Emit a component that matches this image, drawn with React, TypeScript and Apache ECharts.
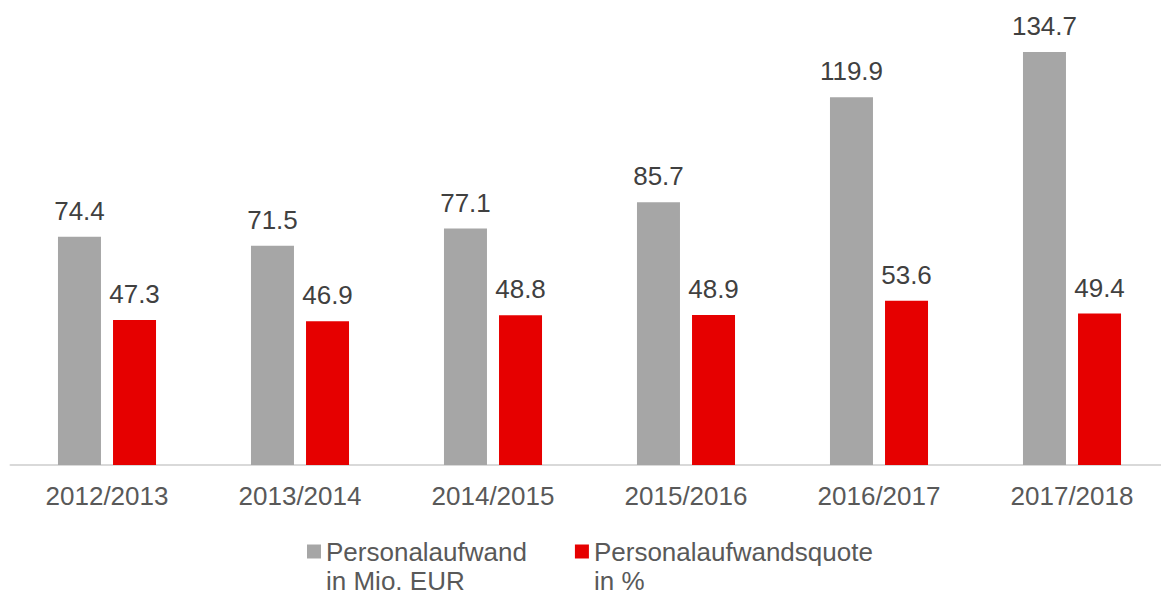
import React, { useEffect, useRef } from "react";
import * as echarts from "echarts";

const categories = ["2012/2013", "2013/2014", "2014/2015", "2015/2016", "2016/2017", "2017/2018"];
const personalaufwand = [74.4, 71.5, 77.1, 85.7, 119.9, 134.7];
const personalaufwandsquote = [47.3, 46.9, 48.8, 48.9, 53.6, 49.4];
const seriesNames = ["Personalaufwand\nin Mio. EUR", "Personalaufwandsquote\nin %"];

const FONT = "'Liberation Sans', Arial, Helvetica, sans-serif";

export default function App() {
  const ref = useRef<HTMLDivElement>(null);
  useEffect(() => {
    if (!ref.current) return;
    const chart = echarts.init(ref.current, null, { renderer: "svg" });
    const label = {
      show: true,
      position: "top",
      distance: 13,
      color: "#404040",
      fontSize: 26,
      fontFamily: FONT,
      formatter: (p: any) => Number(p.value).toFixed(1),
    };
    chart.setOption({
      animation: false,
      backgroundColor: "#ffffff",
      grid: {
        left: 10.5,
        top: 5,
        width: 1158,
        bottom: 127,
        containLabel: false,
        outerBoundsMode: "none",
      },
      legend: {
        left: 307,
        top: 508,
        padding: 0,
        itemWidth: 14,
        itemHeight: 14,
        itemGap: 48,
        icon: "rect",
        formatter: (name: string) => "\n" + name,
        textStyle: {
          color: "#595959",
          fontSize: 26,
          fontFamily: FONT,
          lineHeight: 29,
        },
        data: seriesNames,
      },
      xAxis: {
        type: "category",
        data: categories,
        axisTick: { show: false },
        axisLine: { show: true, lineStyle: { color: "#D9D9D9", width: 2 } },
        axisLabel: {
          color: "#595959",
          fontSize: 26,
          fontFamily: FONT,
          margin: 18,
          interval: 0,
        },
      },
      yAxis: {
        type: "value",
        min: 0,
        max: 150,
        show: false,
        splitLine: { show: false },
      },
      series: [
        {
          name: seriesNames[0],
          type: "bar",
          data: personalaufwand,
          barWidth: 43,
          barGap: "28%",
          itemStyle: { color: "#A6A6A6" },
          label,
        },
        {
          name: seriesNames[1],
          type: "bar",
          data: personalaufwandsquote,
          barWidth: 43,
          barGap: "28%",
          itemStyle: { color: "#E60000" },
          label,
        },
      ],
    });
    return () => chart.dispose();
  }, []);
  return (
    <div
      ref={ref}
      style={{ position: "fixed", left: 0, top: 0, width: 1161, height: 592 }}
    />
  );
}
